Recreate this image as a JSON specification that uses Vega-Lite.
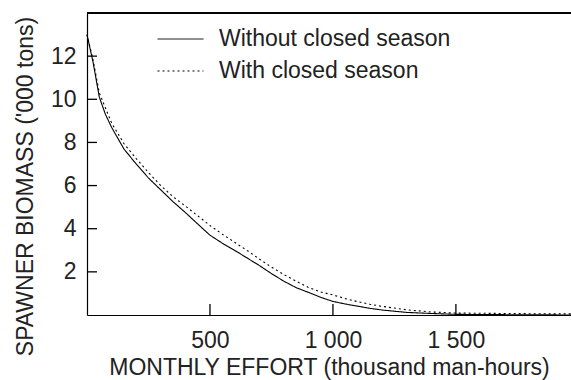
{
  "$schema": "https://vega.github.io/schema/vega-lite/v6.json",
  "autosize": "none",
  "padding": {"left": 87, "top": 13, "right": 0, "bottom": 65},
  "width": 484,
  "height": 302,
  "background": "white",
  "config": {
    "view": {"stroke": null},
    "font": "Liberation Sans",
    "axis": {"grid": false, "domainColor": "black", "labelColor": "#222", "titleColor": "#222", "labelFont": "Liberation Sans", "titleFont": "Liberation Sans", "labelFontSize": 23, "titleFontSize": 23, "titleFontWeight": "normal"}
  },
  "datasets": {
    "curves": [
      {"effort": 0, "biomass": 13.0, "series": "Without closed season"},
      {"effort": 25, "biomass": 11.7, "series": "Without closed season"},
      {"effort": 50, "biomass": 10.1, "series": "Without closed season"},
      {"effort": 75, "biomass": 9.3, "series": "Without closed season"},
      {"effort": 100, "biomass": 8.7, "series": "Without closed season"},
      {"effort": 150, "biomass": 7.7, "series": "Without closed season"},
      {"effort": 200, "biomass": 7.0, "series": "Without closed season"},
      {"effort": 250, "biomass": 6.35, "series": "Without closed season"},
      {"effort": 300, "biomass": 5.8, "series": "Without closed season"},
      {"effort": 350, "biomass": 5.25, "series": "Without closed season"},
      {"effort": 400, "biomass": 4.75, "series": "Without closed season"},
      {"effort": 450, "biomass": 4.22, "series": "Without closed season"},
      {"effort": 500, "biomass": 3.7, "series": "Without closed season"},
      {"effort": 550, "biomass": 3.33, "series": "Without closed season"},
      {"effort": 600, "biomass": 3.0, "series": "Without closed season"},
      {"effort": 650, "biomass": 2.65, "series": "Without closed season"},
      {"effort": 700, "biomass": 2.3, "series": "Without closed season"},
      {"effort": 750, "biomass": 1.92, "series": "Without closed season"},
      {"effort": 800, "biomass": 1.57, "series": "Without closed season"},
      {"effort": 850, "biomass": 1.27, "series": "Without closed season"},
      {"effort": 900, "biomass": 1.05, "series": "Without closed season"},
      {"effort": 950, "biomass": 0.82, "series": "Without closed season"},
      {"effort": 1000, "biomass": 0.63, "series": "Without closed season"},
      {"effort": 1050, "biomass": 0.51, "series": "Without closed season"},
      {"effort": 1100, "biomass": 0.41, "series": "Without closed season"},
      {"effort": 1150, "biomass": 0.31, "series": "Without closed season"},
      {"effort": 1200, "biomass": 0.23, "series": "Without closed season"},
      {"effort": 1300, "biomass": 0.12, "series": "Without closed season"},
      {"effort": 1400, "biomass": 0.07, "series": "Without closed season"},
      {"effort": 1500, "biomass": 0.03, "series": "Without closed season"},
      {"effort": 1600, "biomass": 0.02, "series": "Without closed season"},
      {"effort": 1800, "biomass": 0.01, "series": "Without closed season"},
      {"effort": 1968, "biomass": 0.0, "series": "Without closed season"},
      {"effort": 0, "biomass": 13.0, "series": "With closed season"},
      {"effort": 25, "biomass": 11.8, "series": "With closed season"},
      {"effort": 50, "biomass": 10.3, "series": "With closed season"},
      {"effort": 100, "biomass": 8.9, "series": "With closed season"},
      {"effort": 150, "biomass": 7.95, "series": "With closed season"},
      {"effort": 200, "biomass": 7.25, "series": "With closed season"},
      {"effort": 250, "biomass": 6.6, "series": "With closed season"},
      {"effort": 300, "biomass": 6.0, "series": "With closed season"},
      {"effort": 350, "biomass": 5.48, "series": "With closed season"},
      {"effort": 400, "biomass": 5.05, "series": "With closed season"},
      {"effort": 450, "biomass": 4.6, "series": "With closed season"},
      {"effort": 500, "biomass": 4.15, "series": "With closed season"},
      {"effort": 550, "biomass": 3.75, "series": "With closed season"},
      {"effort": 600, "biomass": 3.37, "series": "With closed season"},
      {"effort": 650, "biomass": 3.0, "series": "With closed season"},
      {"effort": 700, "biomass": 2.6, "series": "With closed season"},
      {"effort": 750, "biomass": 2.22, "series": "With closed season"},
      {"effort": 800, "biomass": 1.88, "series": "With closed season"},
      {"effort": 850, "biomass": 1.57, "series": "With closed season"},
      {"effort": 900, "biomass": 1.28, "series": "With closed season"},
      {"effort": 950, "biomass": 1.07, "series": "With closed season"},
      {"effort": 1000, "biomass": 0.93, "series": "With closed season"},
      {"effort": 1050, "biomass": 0.76, "series": "With closed season"},
      {"effort": 1100, "biomass": 0.62, "series": "With closed season"},
      {"effort": 1150, "biomass": 0.5, "series": "With closed season"},
      {"effort": 1200, "biomass": 0.4, "series": "With closed season"},
      {"effort": 1300, "biomass": 0.24, "series": "With closed season"},
      {"effort": 1400, "biomass": 0.14, "series": "With closed season"},
      {"effort": 1500, "biomass": 0.09, "series": "With closed season"},
      {"effort": 1600, "biomass": 0.08, "series": "With closed season"},
      {"effort": 1800, "biomass": 0.06, "series": "With closed season"},
      {"effort": 1968, "biomass": 0.05, "series": "With closed season"}
    ],
    "yticks": [{"v": 2}, {"v": 4}, {"v": 6}, {"v": 8}, {"v": 10}, {"v": 12}],
    "xticks": [{"v": 500}, {"v": 1000}, {"v": 1500}]
  },
  "layer": [
    {
      "data": {"name": "curves"},
      "mark": {"type": "line", "color": "black", "strokeWidth": 1.1},
      "encoding": {
        "x": {"field": "effort", "type": "quantitative", "scale": {"domain": [0, 1968], "nice": false},
          "axis": {"orient": "bottom", "ticks": false, "values": [500, 1000, 1500], "labelExpr": "replace(format(datum.value, ','), ',', ' ')", "labelPadding": 14, "title": "MONTHLY EFFORT (thousand man-hours)", "titlePadding": 4, "domainWidth": 1.2}},
        "y": {"field": "biomass", "type": "quantitative", "scale": {"domain": [0, 14], "nice": false},
          "axis": {"ticks": false, "values": [2, 4, 6, 8, 10, 12], "labelPadding": 11, "title": "SPAWNER BIOMASS ('000 tons)", "titlePadding": 13, "titleY": 173, "domainWidth": 1.2}},
        "strokeDash": {"field": "series", "type": "nominal",
          "scale": {"domain": ["Without closed season", "With closed season"], "range": [[1, 0], [2, 3]]},
          "legend": {"orient": "none", "legendX": 70, "legendY": 10, "title": null, "symbolType": "stroke", "symbolSize": 2116, "symbolStrokeColor": "black", "symbolStrokeWidth": 1, "labelFontSize": 23, "labelColor": "#222", "labelOffset": 15, "labelLimit": 500, "clipHeight": 32, "rowPadding": 0}},
        "detail": {"field": "series"}
      }
    },
    {
      "data": {"name": "yticks"},
      "mark": {"type": "tick", "orient": "horizontal", "color": "black", "size": 10, "thickness": 1.3, "xOffset": 5, "opacity": 1},
      "encoding": {
        "y": {"field": "v", "type": "quantitative"},
        "x": {"datum": 0, "type": "quantitative"}
      }
    },
    {
      "data": {"name": "xticks"},
      "mark": {"type": "tick", "orient": "vertical", "color": "black", "size": 11, "thickness": 1.3, "yOffset": -5.5, "opacity": 1},
      "encoding": {
        "x": {"field": "v", "type": "quantitative"},
        "y": {"datum": 0, "type": "quantitative"}
      }
    },
    {
      "data": {"name": "yticks"},
      "mark": {"type": "rule", "color": "black", "strokeWidth": 1.2},
      "encoding": {
        "x": {"datum": 0, "type": "quantitative"},
        "x2": {"datum": 1968},
        "y": {"datum": 14, "type": "quantitative"}
      }
    }
  ]
}
